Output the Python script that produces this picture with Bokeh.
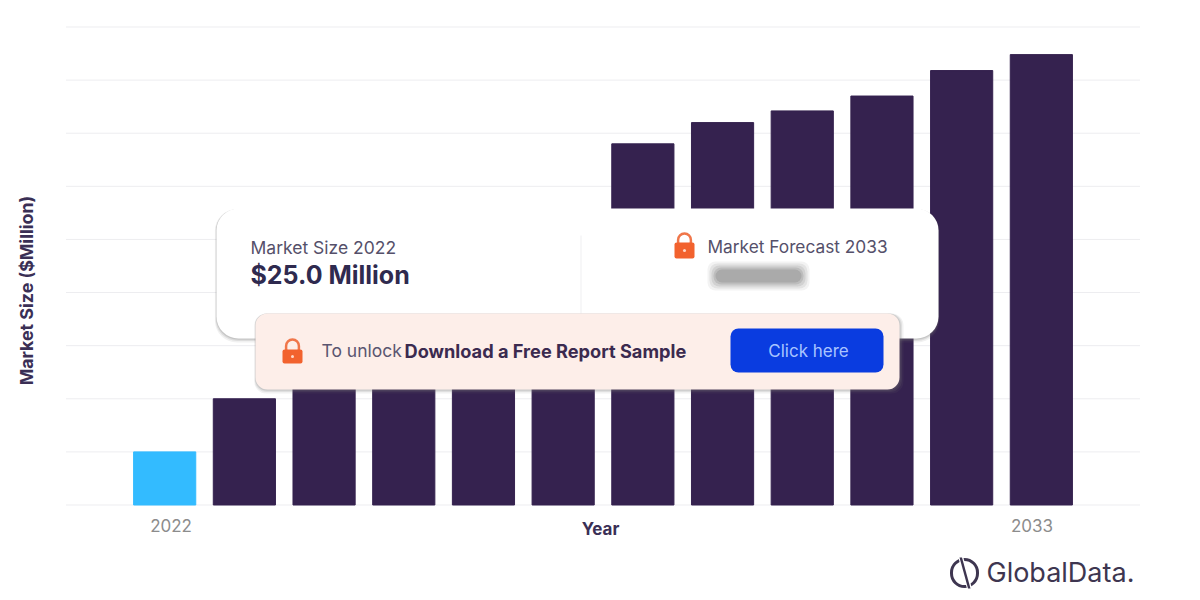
from bokeh.embed import file_html
from bokeh.resources import INLINE
from bokeh.plotting import figure
from bokeh.models import (BoxAnnotation, Label, Range1d, FixedTicker,
                          ColumnDataSource, PolyAnnotation)

years = [2022, 2023, 2024, 2025, 2026, 2027, 2028, 2029, 2030, 2031, 2032, 2033]
market_size = [25, 50, 70, 92, 112, 132, 170, 180, 185.5, 192.5, 204.5, 212]
bar_colors = ["#33BBFF"] + ["#35224F"] * 11
shown_years = ["2022", "2033"]
y_ticks = [0, 25, 50, 75, 100, 125, 150, 175, 200, 225]

FONT = "Inter"
W, H = 1200, 596

# the frame fills the whole canvas so that the logo and the side title can be drawn
p = figure(width=W, height=H, output_backend="svg", toolbar_location=None,
           x_range=Range1d(2019.94, 2034.997),
           y_range=Range1d(-43.07, 237.47),
           min_border_left=0, min_border_right=0, min_border_top=0, min_border_bottom=0)
p.outline_line_color = None
p.background_fill_color = "white"
p.border_fill_color = "white"
p.grid.visible = False
p.yaxis.visible = False

# horizontal rules, limited to the chart's span
p.segment(x0=[2020.762] * len(y_ticks), x1=[2034.238] * len(y_ticks), y0=y_ticks, y1=y_ticks,
          line_color="#EDEDF0", line_width=1)

src = ColumnDataSource(dict(year=years, value=market_size, color=bar_colors))
p.vbar(x="year", top="value", width=0.78, bottom=0, color="color", source=src)

# the reference's two year labels sit a little inward of their bars
tick_at = [2022.08, 2032.883]
p.xaxis.fixed_location = 0
p.xaxis.ticker = FixedTicker(ticks=tick_at)
p.xaxis.major_label_overrides = dict(zip(tick_at, shown_years))
p.xaxis.axis_line_color = None
p.xaxis.major_tick_line_color = None
p.xaxis.minor_tick_line_color = None
p.xaxis.major_label_text_color = "#8C8C8C"
p.xaxis.major_label_text_font = FONT
p.xaxis.major_label_text_font_size = "17px"
p.xaxis.major_label_standoff = 8
p.xaxis.axis_label = "Year"
p.xaxis.axis_label_text_font = FONT
p.xaxis.axis_label_text_font_style = "bold"
p.xaxis.axis_label_text_font_size = "17px"
p.xaxis.axis_label_text_color = "#3A2F55"
p.xaxis.axis_label_standoff = -16


def X(px):
    return px - 1


def Y(py):
    return H - py + 1


def box(l, t, r, b, fill=None, alpha=1.0, line=None, lw=1, radius=0, line_alpha=1.0):
    p.add_layout(BoxAnnotation(left=X(l), right=X(r), top=Y(t), bottom=Y(b),
                               left_units="screen", right_units="screen",
                               top_units="screen", bottom_units="screen",
                               fill_color=fill, fill_alpha=alpha if fill else 0,
                               line_color=line, line_width=lw, line_alpha=line_alpha if line else 0,
                               border_radius=int(round(radius)), level="annotation"))


def text(x, y, s, size, color, bold=False, align="left", angle=0, font=FONT):
    p.add_layout(Label(x=X(x), y=Y(y), x_units="screen", y_units="screen", text=s,
                       text_font=font, text_font_size=f"{size}px", text_color=color,
                       text_font_style="bold" if bold else "normal",
                       text_align=align, text_baseline="middle", angle=angle,
                       level="annotation"))


def lock(l, t, r, b, body_top):
    cx = (l + r) / 2
    w = (r - l) * 0.32
    box(cx - w, t + 1, cx + w, body_top + 6, line="#F0764A", lw=2.5, radius=7)
    box(l, body_top, r, b, fill="#F2622E", radius=2)
    box(cx - 1.5, (body_top + b) / 2 - 1.5, cx + 1.5, (body_top + b) / 2 + 1.5, fill="#FFD9C8", radius=2)


# y axis title (sits lower than the plot's centre in the reference)
text(27, 291, "Market Size ($Million)", 17.8, "#3A2F55", bold=True, align="center", angle=1.5708)

# main card with soft shadow
for off, a in [(4, 0.10), (2.5, 0.16), (1.2, 0.22)]:
    box(217 - off * 0.4, 209 + 0.5, 939 + off * 0.2, 339 + off, fill="#777777", alpha=a, radius=22)
box(217, 209, 939, 339, fill="white", radius=22)
box(581, 236, 582, 314, fill="#F0F0F2")

text(251, 248, "Market Size 2022", 17.5, "#55506A")
text(251, 275, "$25.0 Million", 25, "#2F2A4F", bold=True)
lock(675, 233, 695, 259, 243)
text(708, 247, "Market Forecast 2033", 17.3, "#55506A")

# blurred forecast value
for grow, a in [(8, 0.07), (6, 0.10), (4, 0.12), (2, 0.16), (0, 0.18)]:
    box(716 - grow, 270 - grow, 802 + grow, 283 + grow, fill="#555555", alpha=a, radius=8)

# banner with shadow
for off, a in [(4, 0.10), (2.5, 0.15), (1.2, 0.2)]:
    box(256 - off * 0.3, 314, 900 + off, 390 + off, fill="#777777", alpha=a, radius=12)
box(256, 314, 900, 390, fill="#FDEEE9", radius=12)
lock(283, 339, 303, 364, 350)
text(322, 351, "To unlock", 17.5, "#5A5570")
text(405, 351, "Download a Free Report Sample", 18.2, "#3B2A4F", bold=True)
box(731, 329, 884, 373, fill="#0A3CE0", radius=8)
text(809, 351, "Click here", 17, "#A9C4FF", align="center")

# logo
box(952, 560, 978, 587, line="#3E3650", lw=3, radius=13)
p.add_layout(PolyAnnotation(xs=[X(958), X(963), X(973), X(968)], ys=[Y(555), Y(555), Y(591), Y(591)],
                            xs_units="screen", ys_units="screen",
                            fill_color="white", fill_alpha=1, line_color=None, level="annotation"))
p.add_layout(PolyAnnotation(xs=[X(960), X(962.5), X(971), X(968.5)], ys=[Y(558), Y(558), Y(589), Y(589)],
                            xs_units="screen", ys_units="screen",
                            fill_color="#3E3650", fill_alpha=1, line_color=None, level="annotation"))
text(987, 573, "GlobalData.", 27, "#3E3650")

open("out.html", "w").write(file_html(p, INLINE))
